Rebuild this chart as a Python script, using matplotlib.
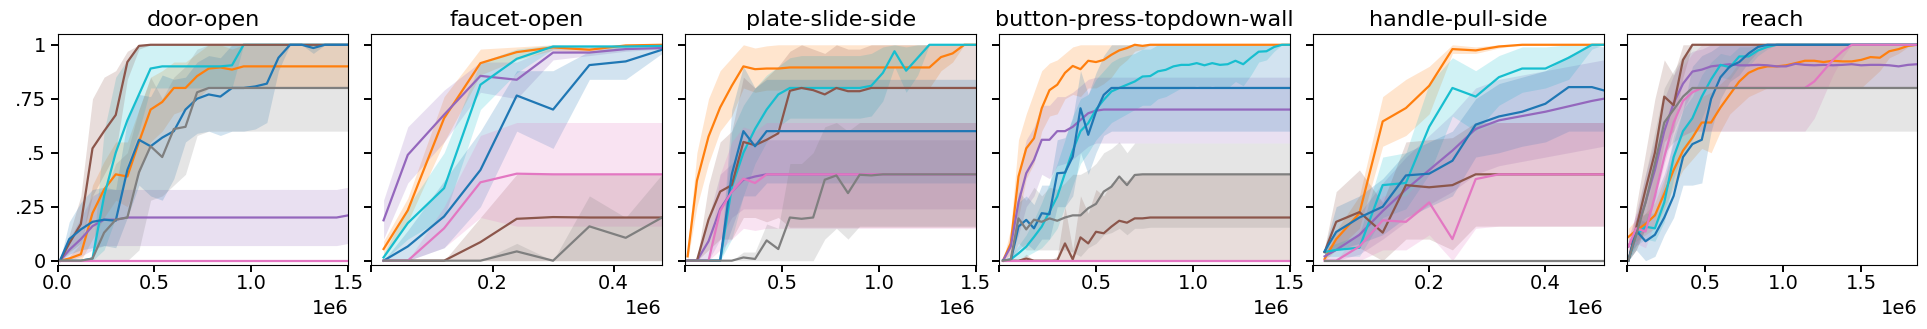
import matplotlib
matplotlib.use('Agg')
import matplotlib.pyplot as plt
from matplotlib.ticker import FuncFormatter

# environment steps, in millions
steps_15 = [0.012, 0.06, 0.12, 0.18, 0.24, 0.30, 0.36, 0.42, 0.48, 0.54, 0.60, 0.66, 0.72,
            0.78, 0.84, 0.90, 0.96, 1.02, 1.08, 1.14, 1.20, 1.26, 1.32, 1.38, 1.44, 1.50]
faucet_x = [0.02, 0.06, 0.12, 0.18, 0.24, 0.30, 0.36, 0.42, 0.48]
button_x = [0.02, 0.06, 0.10, 0.14, 0.18, 0.22, 0.26, 0.30, 0.34, 0.38, 0.42, 0.46, 0.50,
            0.54, 0.58, 0.62, 0.66, 0.70, 0.74, 0.78, 0.82, 0.86, 0.90, 0.94, 0.98, 1.02,
            1.06, 1.10, 1.14, 1.18, 1.22, 1.26, 1.30, 1.34, 1.38, 1.42, 1.46, 1.50]
handle_x = [0.02, 0.04, 0.08, 0.12, 0.16, 0.20, 0.24, 0.28, 0.32, 0.36, 0.40, 0.44, 0.48, 0.50]
reach_x = [0.01, 0.06, 0.12, 0.18, 0.24, 0.30, 0.36, 0.42, 0.48, 0.54, 0.60, 0.66, 0.72, 0.78,
           0.84, 0.90, 0.96, 1.02, 1.08, 1.14, 1.20, 1.26, 1.32, 1.38, 1.44, 1.50, 1.56, 1.62,
           1.68, 1.74, 1.80, 1.86]

# ---- door-open ----
door_orange = [0, 0.01, 0.03, 0.22, 0.33, 0.4, 0.39, 0.55, 0.7, 0.735, 0.8, 0.8, 0.855, 0.89, 0.895, 0.885, 0.9] + [0.9] * 9
door_orange_lo = [0, 0, 0, 0.1, 0.2, 0.28, 0.25, 0.4, 0.55, 0.6, 0.68, 0.7, 0.75, 0.8, 0.8, 0.8, 0.8] + [0.8] * 9
door_orange_hi = [0, 0.02, 0.08, 0.35, 0.46, 0.55, 0.55, 0.7, 0.85, 0.88, 0.92, 0.92, 0.96, 1.0, 1.0, 0.98, 1.0] + [1.0] * 9
door_purple = [0, 0.05, 0.1, 0.16, 0.19, 0.19, 0.2] + [0.2] * 18 + [0.21]
door_purple_lo = [0, 0, 0.02, 0.05, 0.07, 0.07, 0.07] + [0.07] * 18 + [0.08]
door_purple_hi = [0, 0.1, 0.2, 0.3, 0.33, 0.33, 0.33] + [0.33] * 18 + [0.34]
door_cyan = [0, 0, 0, 0.01, 0.3, 0.5, 0.65, 0.77, 0.89, 0.9, 0.9, 0.9, 0.9, 0.9, 0.9, 0.905, 1.0] + [1.0] * 9
door_cyan_lo = [0, 0, 0, 0, 0.05, 0.2, 0.45, 0.6, 0.8, 0.8, 0.8, 0.8, 0.8, 0.8, 0.8, 0.8, 1.0] + [1.0] * 9
door_cyan_hi = [0, 0, 0, 0.02, 0.6, 0.85, 0.93, 1.0, 1.0, 1.0, 1.0, 1.0, 1.0, 1.0, 1.0, 1.0, 1.0] + [1.0] * 9
door_brown = [0, 0.08, 0.17, 0.52, 0.6, 0.675, 0.92, 0.995, 1.0] + [1.0] * 17
door_brown_lo = [0, 0.04, 0.08, 0.3, 0.4, 0.5, 0.84, 0.98, 1.0] + [1.0] * 17
door_brown_hi = [0, 0.12, 0.3, 0.75, 0.85, 0.88, 0.97, 1.0, 1.0] + [1.0] * 17
door_blue = [0, 0.1, 0.145, 0.18, 0.19, 0.185, 0.42, 0.56, 0.53, 0.57, 0.6, 0.7, 0.75, 0.77, 0.76,
             0.8, 0.8, 0.807, 0.82, 0.94, 1.0, 1.0, 0.985, 1.0, 1.0, 1.0]
door_blue_lo = [0, 0.03, 0.05, 0.06, 0.07, 0.06, 0.2, 0.35, 0.3, 0.28, 0.38, 0.55, 0.59, 0.6, 0.58,
                0.6, 0.6, 0.61, 0.64, 0.88, 1.0, 1.0, 0.96, 1.0, 1.0, 1.0]
door_blue_hi = [0, 0.18, 0.27, 0.33, 0.34, 0.33, 0.65, 0.77, 0.76, 0.86, 0.84, 0.85, 0.92, 0.95, 0.94,
                1.0, 1.0, 1.0, 1.0, 1.0, 1.0, 1.0, 1.0, 1.0, 1.0, 1.0]
door_pink = [0] * 26
door_gray = [0, 0, 0, 0.01, 0.13, 0.19, 0.2, 0.41, 0.53, 0.48, 0.61, 0.62, 0.78, 0.8] + [0.8] * 12
door_gray_lo = [0, 0, 0, 0, 0, 0, 0, 0.05, 0.28, 0.3, 0.35, 0.4, 0.58, 0.6] + [0.6] * 12
door_gray_hi = [0, 0, 0, 0.02, 0.3, 0.45, 0.5, 0.7, 0.85, 0.75, 0.85, 0.9, 0.98, 1.0] + [1.0] * 12

# ---- faucet-open ----
faucet_orange = [0.054, 0.233, 0.66, 0.915, 0.966, 0.988, 0.977, 0.997, 1.0]
faucet_orange_lo = [0.02, 0.18, 0.55, 0.86, 0.93, 0.975, 0.965, 0.99, 1.0]
faucet_orange_hi = [0.09, 0.29, 0.76, 0.98, 0.99, 1.0, 0.99, 1.0, 1.0]
faucet_purple = [0.187, 0.49, 0.676, 0.856, 0.838, 0.964, 0.964, 0.98, 0.985]
faucet_purple_lo = [0.1, 0.36, 0.55, 0.78, 0.75, 0.93, 0.95, 0.97, 0.98]
faucet_purple_hi = [0.28, 0.62, 0.79, 0.92, 0.92, 0.99, 0.98, 0.99, 0.99]
faucet_cyan = [0.015, 0.174, 0.336, 0.815, 0.935, 0.992, 0.992, 0.992, 0.995]
faucet_cyan_lo = [0, 0.1, 0.2, 0.7, 0.87, 0.98, 0.98, 0.98, 0.99]
faucet_cyan_hi = [0.03, 0.25, 0.5, 0.92, 0.98, 1.0, 1.0, 1.0, 1.0]
faucet_brown = [0, 0, 0, 0.086, 0.194, 0.202, 0.2, 0.2, 0.2]
faucet_brown_lo = [0] * 9
faucet_brown_hi = [0, 0, 0, 0.2, 0.4, 0.4, 0.4, 0.4, 0.4]
faucet_blue = [0, 0.066, 0.205, 0.42, 0.765, 0.7, 0.906, 0.923, 0.977]
faucet_blue_lo = [0, 0, 0.06, 0.25, 0.6, 0.52, 0.84, 0.84, 0.96]
faucet_blue_hi = [0, 0.14, 0.37, 0.6, 0.88, 0.88, 0.97, 0.99, 0.99]
faucet_pink = [0, 0, 0.15, 0.363, 0.403, 0.4, 0.4, 0.4, 0.4]
faucet_pink_lo = [0, 0, 0.06, 0.2, 0.16, 0.16, 0.16, 0.16, 0.16]
faucet_pink_hi = [0, 0, 0.25, 0.58, 0.64, 0.64, 0.64, 0.64, 0.64]
faucet_gray = [0, 0, 0, 0, 0.043, 0, 0.159, 0.106, 0.2]
faucet_gray_lo = [0] * 9
faucet_gray_hi = [0, 0, 0, 0, 0.08, 0, 0.3, 0.2, 0.4]

# ---- plate-slide-side ----
plate_orange = [0.02, 0.37, 0.575, 0.71, 0.81, 0.9, 0.887, 0.89, 0.89] + [0.895] * 13 + [0.943, 0.96, 1.0, 1.0]
plate_orange_lo = [0, 0.25, 0.45, 0.6, 0.67, 0.8, 0.78, 0.79, 0.79] + [0.8] * 13 + [0.88, 0.92, 1.0, 1.0]
plate_orange_hi = [0.05, 0.5, 0.75, 0.88, 0.94, 1.0, 0.985, 0.995, 1.0] + [1.0] * 13 + [1.0] * 4
plate_purple = [0, 0, 0.09, 0.24, 0.32, 0.375, 0.39, 0.4] + [0.4] * 18
plate_purple_lo = [0, 0, 0, 0.1, 0.2, 0.24, 0.24, 0.24] + [0.24] * 18
plate_purple_hi = [0, 0, 0.2, 0.4, 0.45, 0.52, 0.55, 0.56] + [0.56] * 18
plate_cyan = [0, 0, 0, 0, 0.34, 0.5, 0.61, 0.7, 0.77, 0.8, 0.8, 0.8, 0.8, 0.8, 0.8, 0.8, 0.81,
              0.87, 0.97, 0.88, 0.94, 1.0, 1.0, 1.0, 1.0, 1.0]
plate_cyan_lo = [0, 0, 0, 0, 0.1, 0.3, 0.45, 0.55, 0.62, 0.66, 0.66, 0.66, 0.66, 0.66, 0.66, 0.66,
                 0.67, 0.74, 0.9, 0.78, 0.86, 1.0, 1.0, 1.0, 1.0, 1.0]
plate_cyan_hi = [0, 0, 0, 0, 0.6, 0.72, 0.8, 0.86, 0.9, 0.94, 0.95, 0.95, 0.95, 0.95, 0.95, 0.95,
                 0.96, 0.99, 1.0, 0.99, 1.0, 1.0, 1.0, 1.0, 1.0, 1.0]
plate_brown = [0, 0, 0.19, 0.32, 0.35, 0.55, 0.535, 0.56, 0.59, 0.787, 0.8, 0.79, 0.77, 0.8, 0.785,
               0.785, 0.8] + [0.8] * 9
plate_brown_lo = [0, 0, 0.05, 0.1, 0.1, 0.2, 0.2, 0.18, 0.2] + [0.155] * 17
plate_brown_hi = [0, 0, 0.35, 0.55, 0.6, 0.85, 0.8, 0.85, 0.9, 0.97, 1.0, 0.98, 0.96, 1.0, 0.98,
                  0.98, 1.0] + [1.0] * 9
plate_blue = [0, 0, 0, 0, 0.4, 0.6, 0.53, 0.6] + [0.6] * 18
plate_blue_lo = [0, 0, 0, 0, 0.15, 0.3, 0.3, 0.36] + [0.36] * 18
plate_blue_hi = [0, 0, 0, 0, 0.7, 0.9, 0.8, 0.84] + [0.84] * 18
plate_pink = [0, 0, 0, 0.23, 0.32, 0.38, 0.36, 0.4] + [0.4] * 18
plate_pink_lo = [0, 0, 0, 0.05, 0.1, 0.15, 0.14, 0.15] + [0.15] * 18
plate_pink_hi = [0, 0, 0, 0.4, 0.55, 0.62, 0.6, 0.64] + [0.64] * 18
plate_gray = [0, 0, 0, 0, 0, 0.015, 0.008, 0.094, 0.054, 0.2, 0.194, 0.2, 0.375, 0.395, 0.313,
              0.398, 0.395, 0.4] + [0.4] * 8
plate_gray_lo = [0] * 12 + [0.1, 0.15, 0.1, 0.16, 0.16, 0.16] + [0.16] * 8
plate_gray_hi = [0, 0, 0, 0, 0, 0.04, 0.04, 0.17, 0.15, 0.45, 0.45, 0.5, 0.62, 0.64, 0.6, 0.64,
                 0.64, 0.64] + [0.64] * 8

# ---- button-press-topdown-wall ----
button_orange = [0, 0.08, 0.39, 0.52, 0.567, 0.706, 0.79, 0.815, 0.87, 0.902, 0.887, 0.926, 0.92,
                 0.93, 0.954, 0.974, 0.985, 1.0, 0.995] + [1.0] * 19
button_orange_lo = [0, 0.03, 0.2, 0.38, 0.45, 0.6, 0.67, 0.68, 0.75, 0.77, 0.76, 0.8, 0.8, 0.82,
                    0.85, 0.9, 0.93, 0.97, 0.98] + [1.0] * 19
button_orange_hi = [0, 0.15, 0.56, 0.68, 0.78, 0.88, 0.915, 0.93, 0.96, 0.99] + [1.0] * 28
button_purple = [0, 0.065, 0.27, 0.405, 0.467, 0.56, 0.56, 0.6, 0.6, 0.62, 0.652, 0.683, 0.695] + [0.7] * 25
button_purple_lo = [0, 0.02, 0.12, 0.25, 0.3, 0.4, 0.38, 0.44, 0.45, 0.47, 0.5, 0.53, 0.545] + [0.545] * 25
button_purple_hi = [0, 0.11, 0.4, 0.56, 0.62, 0.72, 0.72, 0.76, 0.76, 0.78, 0.81, 0.84, 0.85] + [0.85] * 25
button_cyan = [0, 0.006, 0.034, 0.065, 0.11, 0.158, 0.227, 0.297, 0.405, 0.51, 0.6, 0.637, 0.7,
               0.745, 0.784, 0.8, 0.815, 0.83, 0.853,
               0.855, 0.877, 0.884, 0.9, 0.907, 0.907, 0.915, 0.905, 0.915, 0.907, 0.91, 0.926,
               0.91, 0.94, 0.968, 0.97, 0.99, 1.0, 1.0]
button_cyan_lo = [0, 0, 0.01, 0.02, 0.04, 0.06, 0.1, 0.15, 0.25, 0.35, 0.45, 0.5, 0.56, 0.6, 0.64,
                  0.66, 0.68, 0.7, 0.72,
                  0.72, 0.75, 0.76, 0.78, 0.8, 0.8, 0.81, 0.8, 0.81, 0.8, 0.8, 0.83, 0.81, 0.86,
                  0.92, 0.93, 0.97, 1.0, 1.0]
button_cyan_hi = [0, 0.02, 0.07, 0.12, 0.19, 0.27, 0.36, 0.45, 0.56, 0.67, 0.75, 0.77, 0.84, 0.88,
                  0.92, 0.94, 0.95, 0.96, 0.98, 0.98] + [1.0] * 18
button_brown = [0, 0, 0, 0.01, 0, 0, 0, 0, 0.08, 0.006, 0.108, 0.08, 0.134, 0.127, 0.158, 0.185,
                0.176, 0.196, 0.196] + [0.2] * 19
button_brown_lo = [0] * 38
button_brown_hi = [0, 0, 0, 0.03, 0, 0, 0, 0.02, 0.25, 0.05, 0.3, 0.22, 0.33, 0.3, 0.36, 0.38,
                   0.37, 0.4, 0.4] + [0.4] * 19
button_blue = [0, 0, 0.158, 0.189, 0.15, 0.22, 0.215, 0.405, 0.408, 0.482, 0.706, 0.583, 0.69,
               0.768, 0.8] + [0.8] * 23
button_blue_lo = [0, 0, 0.05, 0.08, 0.05, 0.1, 0.1, 0.25, 0.25, 0.3, 0.5, 0.4, 0.5, 0.58, 0.6] + [0.6] * 23
button_blue_hi = [0, 0, 0.27, 0.3, 0.26, 0.35, 0.35, 0.56, 0.57, 0.66, 0.88, 0.77, 0.87, 0.95, 1.0] + [1.0] * 23
button_pink = [0] * 38
button_gray = [0, 0.006, 0.196, 0.145, 0.19, 0.18, 0.196, 0.185, 0.2, 0.21, 0.21, 0.243, 0.263,
               0.32, 0.343, 0.39, 0.35, 0.397, 0.4] + [0.4] * 19
button_gray_lo = [0, 0, 0.08, 0.05, 0.05, 0.05, 0.05, 0.05, 0.05, 0.04, 0.02, 0.06, 0.08, 0.12,
                  0.13, 0.15, 0.12, 0.15, 0.15] + [0.155] * 19
button_gray_hi = [0, 0.01, 0.32, 0.28, 0.34, 0.3, 0.34, 0.33, 0.36, 0.4, 0.4, 0.42, 0.45, 0.5,
                  0.52, 0.55, 0.5, 0.545, 0.545] + [0.545] * 19

# ---- handle-pull-side ----
handle_orange = [0.008, 0.1, 0.22, 0.645, 0.707, 0.81, 0.98, 0.974, 0.992, 1.0, 1.0, 1.0, 1.0, 1.0]
handle_orange_lo = [0, 0.05, 0.15, 0.53, 0.58, 0.68, 0.96, 0.96, 0.985, 1.0, 1.0, 1.0, 1.0, 1.0]
handle_orange_hi = [0.02, 0.14, 0.3, 0.76, 0.84, 0.9, 1.0, 0.99, 1.0, 1.0, 1.0, 1.0, 1.0, 1.0]
handle_purple = [0.02, 0.05, 0.12, 0.23, 0.33, 0.42, 0.51, 0.61, 0.65, 0.67, 0.69, 0.715, 0.74, 0.75]
handle_purple_lo = [0, 0, 0.03, 0.1, 0.18, 0.26, 0.32, 0.4, 0.44, 0.46, 0.48, 0.5, 0.52, 0.53]
handle_purple_hi = [0.04, 0.1, 0.22, 0.36, 0.48, 0.58, 0.68, 0.8, 0.84, 0.86, 0.88, 0.9, 0.92, 0.93]
handle_cyan = [0.04, 0.05, 0.06, 0.35, 0.36, 0.62, 0.8, 0.76, 0.85, 0.89, 0.89, 0.94, 1.0, 1.0]
handle_cyan_lo = [0.02, 0.02, 0.02, 0.2, 0.24, 0.4, 0.67, 0.6, 0.72, 0.78, 0.8, 0.84, 0.98, 1.0]
handle_cyan_hi = [0.06, 0.08, 0.12, 0.48, 0.5, 0.82, 0.94, 0.88, 0.95, 0.99, 0.99, 1.0, 1.0, 1.0]
handle_brown = [0.04, 0.18, 0.225, 0.13, 0.35, 0.34, 0.35, 0.4, 0.4, 0.4, 0.4, 0.4, 0.4, 0.4]
handle_brown_lo = [0.02, 0.05, 0.06, 0, 0.1, 0.1, 0.05, 0.16, 0.16, 0.16, 0.16, 0.16, 0.16, 0.16]
handle_brown_hi = [0.06, 0.32, 0.42, 0.27, 0.55, 0.56, 0.57, 0.64, 0.64, 0.64, 0.64, 0.64, 0.64, 0.64]
handle_blue = [0.043, 0.133, 0.2, 0.25, 0.395, 0.403, 0.463, 0.63, 0.668, 0.69, 0.727, 0.804, 0.804, 0.789]
handle_blue_lo = [0.02, 0.05, 0.08, 0.12, 0.2, 0.25, 0.3, 0.48, 0.5, 0.53, 0.55, 0.6, 0.6, 0.6]
handle_blue_hi = [0.06, 0.25, 0.3, 0.38, 0.5, 0.55, 0.6, 0.75, 0.82, 0.85, 0.88, 0.95, 1.0, 0.99]
handle_pink = [0, 0, 0.066, 0.187, 0.18, 0.27, 0.1, 0.378, 0.4, 0.4, 0.4, 0.4, 0.4, 0.4]
handle_pink_lo = [0, 0, 0, 0.05, 0.05, 0.12, 0, 0.15, 0.16, 0.16, 0.16, 0.16, 0.16, 0.16]
handle_pink_hi = [0, 0, 0.14, 0.3, 0.3, 0.42, 0.5, 0.6, 0.64, 0.64, 0.64, 0.64, 0.64, 0.64]
handle_gray = [0] * 14

# ---- reach ----
reach_orange = [0.11, 0.14, 0.17, 0.21, 0.31, 0.42, 0.51, 0.57, 0.64, 0.64, 0.71, 0.77, 0.83, 0.87,
                0.89, 0.9, 0.9, 0.905, 0.915, 0.926, 0.926, 0.92, 0.926, 0.923, 0.923, 0.93, 0.943,
                0.94, 0.97, 0.98, 0.995, 1.0]
reach_orange_lo = [0.07, 0.09, 0.12, 0.15, 0.24, 0.34, 0.42, 0.47, 0.52, 0.5, 0.6, 0.68, 0.72, 0.76,
                   0.78, 0.8] + [0.8] * 10 + [0.84, 0.88, 0.94, 0.96, 0.99, 1.0]
reach_orange_hi = [0.15, 0.19, 0.22, 0.27, 0.38, 0.5, 0.6, 0.67, 0.76, 0.78, 0.82, 0.86, 0.92, 0.96,
                   0.98, 1.0] + [1.0] * 16
reach_purple = [0.065, 0.14, 0.27, 0.42, 0.6, 0.73, 0.82, 0.876, 0.885, 0.9, 0.905, 0.91, 0.905,
                0.905, 0.907, 0.905, 0.9, 0.9, 0.912, 0.907, 0.905, 0.907, 0.905, 0.907, 0.91,
                0.905, 0.907, 0.907, 0.905, 0.9, 0.907, 0.91]
reach_purple_lo = [0.03, 0.07, 0.15, 0.28, 0.45, 0.6, 0.7, 0.78, 0.8] + [0.8] * 23
reach_purple_hi = [0.1, 0.22, 0.4, 0.56, 0.75, 0.86, 0.94, 0.97, 0.98] + [1.0] * 23
reach_cyan = [0, 0.12, 0.157, 0.15, 0.27, 0.48, 0.6, 0.66, 0.76, 0.84, 0.907, 0.896, 0.946, 0.946,
              0.974, 0.99, 1.0] + [1.0] * 15
reach_cyan_lo = [0, 0.07, 0.1, 0.09, 0.18, 0.38, 0.5, 0.56, 0.66, 0.76, 0.85, 0.84, 0.9, 0.9, 0.95,
                 0.98, 1.0] + [1.0] * 15
reach_cyan_hi = [0, 0.17, 0.22, 0.22, 0.36, 0.58, 0.7, 0.76, 0.86, 0.92, 0.96, 0.95, 0.99, 0.99,
                 1.0, 1.0, 1.0] + [1.0] * 15
reach_brown = [0, 0.15, 0.33, 0.5, 0.76, 0.72, 0.93] + [1.0] * 25
reach_brown_lo = [0, 0.05, 0.15, 0.3, 0.55, 0.6, 0.85] + [1.0] * 25
reach_brown_hi = [0, 0.25, 0.5, 0.75, 0.93, 0.86, 1.0] + [1.0] * 25
reach_blue = [0, 0.14, 0.09, 0.12, 0.2, 0.3, 0.48, 0.54, 0.56, 0.75, 0.85, 0.9, 0.92, 0.96, 0.99,
              1.0] + [1.0] * 16
reach_blue_lo = [0, 0.05, 0, 0.02, 0.12, 0.2, 0.35, 0.35, 0.36, 0.6, 0.75, 0.83, 0.86, 0.92, 0.97,
                 1.0] + [1.0] * 16
reach_blue_hi = [0, 0.2, 0.18, 0.3, 0.4, 0.55, 0.7, 0.9, 0.95, 0.97, 1.0, 1.0, 1.0, 1.0, 1.0,
                 1.0] + [1.0] * 16
reach_pink = [0.065, 0.15, 0.135, 0.3, 0.48, 0.64, 0.74, 0.78, 0.8] + [0.8] * 11 + \
             [0.83, 0.88, 0.93, 0.97, 1.0] + [1.0] * 7
reach_pink_lo = [0.03, 0.08, 0.06, 0.18, 0.34, 0.5, 0.58, 0.6, 0.6] + [0.6] * 11 + \
                [0.66, 0.76, 0.86, 0.94, 1.0] + [1.0] * 7
reach_pink_hi = [0.1, 0.22, 0.21, 0.42, 0.62, 0.78, 0.9, 0.96, 1.0] + [1.0] * 23
reach_gray = [0, 0.12, 0.27, 0.45, 0.64, 0.7, 0.76, 0.8] + [0.8] * 24
reach_gray_lo = [0, 0.05, 0.15, 0.3, 0.5, 0.55, 0.58, 0.6] + [0.6] * 24
reach_gray_hi = [0, 0.2, 0.4, 0.6, 0.8, 0.88, 0.95, 1.0] + [1.0] * 24

titles = ['door-open', 'faucet-open', 'plate-slide-side', 'button-press-topdown-wall',
          'handle-pull-side', 'reach']
xmax = [1.5, 0.48, 1.5, 1.5, 0.5, 1.86]
xticks = [[0, 0.5, 1.0, 1.5], [0, 0.2, 0.4], [0, 0.5, 1.0, 1.5], [0, 0.5, 1.0, 1.5],
          [0, 0.2, 0.4], [0, 0.5, 1.0, 1.5]]
yticks = [0, 0.25, 0.5, 0.75, 1]
ytick_labels = ['0', '.25', '.5', '.75', '1']

# drawing order: orange, purple, cyan, brown, blue, pink, gray
colors = ['#ff7f0e', '#9467bd', '#17becf', '#8c564b', '#1f77b4', '#e377c2', '#7f7f7f']


def zero_band(s):
    return (s, s, s)


panels = [
    (steps_15, [(door_orange, door_orange_lo, door_orange_hi),
                (door_purple, door_purple_lo, door_purple_hi),
                (door_cyan, door_cyan_lo, door_cyan_hi),
                (door_brown, door_brown_lo, door_brown_hi),
                (door_blue, door_blue_lo, door_blue_hi),
                zero_band(door_pink),
                (door_gray, door_gray_lo, door_gray_hi)]),
    (faucet_x, [(faucet_orange, faucet_orange_lo, faucet_orange_hi),
                (faucet_purple, faucet_purple_lo, faucet_purple_hi),
                (faucet_cyan, faucet_cyan_lo, faucet_cyan_hi),
                (faucet_brown, faucet_brown_lo, faucet_brown_hi),
                (faucet_blue, faucet_blue_lo, faucet_blue_hi),
                (faucet_pink, faucet_pink_lo, faucet_pink_hi),
                (faucet_gray, faucet_gray_lo, faucet_gray_hi)]),
    (steps_15, [(plate_orange, plate_orange_lo, plate_orange_hi),
                (plate_purple, plate_purple_lo, plate_purple_hi),
                (plate_cyan, plate_cyan_lo, plate_cyan_hi),
                (plate_brown, plate_brown_lo, plate_brown_hi),
                (plate_blue, plate_blue_lo, plate_blue_hi),
                (plate_pink, plate_pink_lo, plate_pink_hi),
                (plate_gray, plate_gray_lo, plate_gray_hi)]),
    (button_x, [(button_orange, button_orange_lo, button_orange_hi),
                (button_purple, button_purple_lo, button_purple_hi),
                (button_cyan, button_cyan_lo, button_cyan_hi),
                (button_brown, button_brown_lo, button_brown_hi),
                (button_blue, button_blue_lo, button_blue_hi),
                zero_band(button_pink),
                (button_gray, button_gray_lo, button_gray_hi)]),
    (handle_x, [(handle_orange, handle_orange_lo, handle_orange_hi),
                (handle_purple, handle_purple_lo, handle_purple_hi),
                (handle_cyan, handle_cyan_lo, handle_cyan_hi),
                (handle_brown, handle_brown_lo, handle_brown_hi),
                (handle_blue, handle_blue_lo, handle_blue_hi),
                (handle_pink, handle_pink_lo, handle_pink_hi),
                zero_band(handle_gray)]),
    (reach_x, [(reach_orange, reach_orange_lo, reach_orange_hi),
               (reach_purple, reach_purple_lo, reach_purple_hi),
               (reach_cyan, reach_cyan_lo, reach_cyan_hi),
               (reach_brown, reach_brown_lo, reach_brown_hi),
               (reach_blue, reach_blue_lo, reach_blue_hi),
               (reach_pink, reach_pink_lo, reach_pink_hi),
               (reach_gray, reach_gray_lo, reach_gray_hi)]),
]

fig, axes = plt.subplots(1, 6, figsize=(19.27, 3.29), dpi=100)
fig.subplots_adjust(left=0.0299, right=0.995, bottom=0.1945, top=0.8967, wspace=0.08)

for i, (ax, (x, series)) in enumerate(zip(axes, panels)):
    for color, (mean, lo, hi) in zip(colors, series):
        ax.fill_between(x, lo, hi, color=color, alpha=0.2, linewidth=0)
        ax.plot(x, mean, color=color, linewidth=1.6)

    ax.set_title(titles[i], fontsize=16)
    ax.set_xlim(0, xmax[i])
    ax.set_ylim(-0.02, 1.05)
    ax.set_xticks(xticks[i])
    ax.xaxis.set_major_formatter(FuncFormatter(lambda v, p: '%.1f' % v))
    ax.set_yticks(yticks)
    if i == 0:
        ax.set_yticklabels(ytick_labels)
    else:
        ax.set_yticklabels([])
        ax.xaxis.get_major_ticks()[0].label1.set_visible(False)
    ax.tick_params(labelsize=14, length=5, width=1.4)
    ax.tick_params(axis='x', pad=1.5)
    ax.text(1.0, -0.213, '1e6', transform=ax.transAxes, ha='right', va='baseline', fontsize=14)

fig.savefig('out.png', dpi=100)
